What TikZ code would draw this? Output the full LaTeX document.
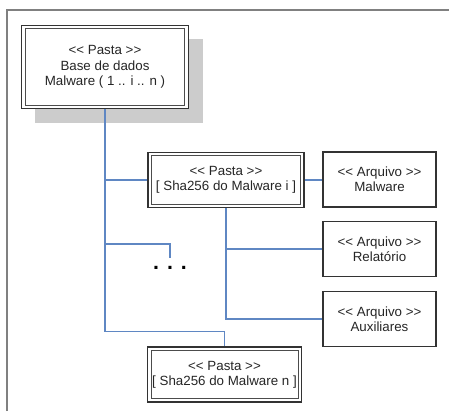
\documentclass[tikz,border=0pt]{standalone}
\usepackage{fontspec}
\setmainfont{Liberation Sans}
\usetikzlibrary{calc,backgrounds}
\tikzset{every picture/.style={line width=0.75pt}}
\definecolor{linkblue}{RGB}{95,135,195}
\definecolor{framegray}{RGB}{128,128,128}
\definecolor{shadowgray}{RGB}{204,204,204}
\newcommand{\abre}{<\kern0pt<}
\newcommand{\fecha}{>\kern0pt>}
\tikzset{
  pasta/.style={draw=black!80, line width=1.2pt, fill=white,
    align=center, inner sep=0pt, text=black!85, font=\fontsize{10}{11.5}\selectfont,
    path picture={\draw[black!70, line width=0.6pt]
      ($(path picture bounding box.north west)+(3.5,-3.5)$) rectangle
      ($(path picture bounding box.south east)+(-3.5,3.5)$);}},
  arquivo/.style={draw=black!80, line width=0.9pt, fill=white, align=center, inner sep=0pt,
    minimum width=84.75pt, minimum height=41.25pt, text=black!85, font=\fontsize{10}{11.5}\selectfont},
  link/.style={draw=linkblue, line width=0.9pt},
  frameline/.style={draw=framegray, line width=1.5pt}
}

\begin{document}
\begin{tikzpicture}[x=0.75pt,y=0.75pt,yscale=-1,xscale=1]
\useasboundingbox (0,0) rectangle (449,411);

%Frame
\draw[frameline] (7,411) -- (7,10) -- (449,10);

% Text Node
\node (base) [pasta, minimum width=125pt, minimum height=62.5pt] at (105,67) {\abre{} Pasta \fecha\\Base de dados\\Malware ( 1 .. i .. n )};
% Text Node
\node (shai) [pasta, minimum width=117pt, minimum height=41.5pt] at (226,180) {\abre{} Pasta \fecha\\{}[ Sha256 do Malware i ]};
% Text Node
\node (shan) [pasta, minimum width=115.5pt, minimum height=41pt] at (224.5,374.5) {\abre{} Pasta \fecha\\{}[ Sha256 do Malware n ]};
% Text Node
\node (fmal) [arquivo] at (379.5,179.5) {\abre{} Arquivo \fecha\\Malware};
% Text Node
\node (frel) [arquivo] at (379.5,249) {\abre{} Arquivo \fecha\\Relatório};
% Text Node
\node (faux) [arquivo] at (379.5,319) {\abre{} Arquivo \fecha\\Auxiliares};
% Text Node
\node (dots) [anchor=base, inner sep=5.5pt, text=black, font=\fontsize{16}{18}\bfseries\selectfont] at (170,269) {. . .};

%Shadow
\begin{scope}[on background layer]
\fill[shadowgray] ($(base.north west)+(14,14)$) rectangle ($(base.south east)+(14,14)$);
\end{scope}

%Links
\coordinate (jn) at ($(shan.north)+(0,-15)$);
\coordinate (jd) at ($(dots.north)+(0,-14)$);
\draw[link] (base.south) |- (jn) -- (shan.north);
\draw[link] (base.south) |- (shai.west);
\draw[link] (base.south) |- (jd) -- (dots.north);
\draw[link] (shai.east) -- (shai.east -| fmal.west);
\draw[link] (shai.south) |- (frel.west);
\draw[link] (shai.south) |- (faux.west);

\end{tikzpicture}
\end{document}
